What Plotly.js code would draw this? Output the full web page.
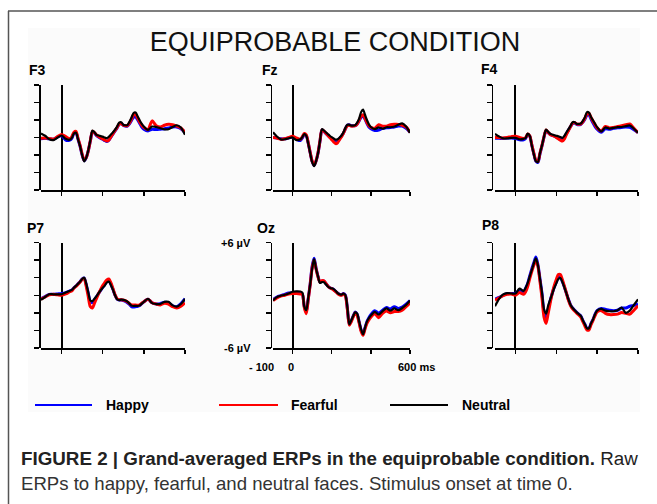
<!DOCTYPE html>
<html>
<head>
<meta charset="utf-8">
<script src="https://cdn.plot.ly/plotly-3.0.1.min.js"></script>
<style>html,body{margin:0;padding:0;background:#fff;}#chart{width:657px;height:504px;}</style>
</head>
<body>
<div id="chart"></div>
<script>
// ---- data ----
const electrodes = ['F3', 'Fz', 'F4', 'P7', 'Oz', 'P8'];
const conditions = ['Happy', 'Fearful', 'Neutral'];
const timeMs = [-100,-80,-60,-40,-20,0,20,40,50,60,70,80,90,100,110,120,130,140,150,160,170,180,190,200,210,220,230,240,250,260,270,280,290,300,310,320,330,340,350,360,370,380,390,400,420,440,460,480,500,520,540,560,580,600];

const happyF3   = [-0.15,-0.1,-0.15,-0.2,0.05,0.2,-0.3,-0.3,-0.1,0.45,0.55,-0.2,-1.0,-2.0,-2.65,-2.3,-1.5,-0.4,0.65,0.5,0.2,0.05,-0.1,-0.2,-0.35,-0.45,-0.3,0.05,0.4,0.75,1.1,1.5,1.6,1.4,1.3,1.3,1.55,1.95,2.3,2.35,2.0,1.6,1.2,0.95,0.75,0.95,0.9,0.95,1.0,1.1,1.2,1.2,1.0,0.55];
const fearfulF3 = [-0.1,-0.05,-0.1,-0.2,0.1,0.35,0.1,-0.15,0.1,0.6,0.7,-0.1,-0.9,-1.9,-2.6,-2.3,-1.5,-0.35,0.7,0.55,0.3,0.1,-0.05,-0.15,-0.3,-0.4,-0.3,0.1,0.45,0.8,1.15,1.55,1.6,1.4,1.35,1.35,1.65,2.1,2.6,2.6,2.2,1.75,1.4,1.15,0.9,1.9,1.35,1.2,1.4,1.5,1.45,1.3,1.1,0.6];
const neutralF3 = [0.46,0.2,-0.2,-0.3,-0.02,0.23,-0.15,-0.25,-0.05,0.45,0.55,-0.2,-1.0,-2.0,-2.73,-2.3,-1.45,-0.3,0.8,0.6,0.3,0.22,0.15,0.1,0.0,-0.08,0.1,0.35,0.6,0.9,1.25,1.7,1.75,1.45,1.4,1.42,1.8,2.28,2.8,2.85,2.4,1.95,1.55,1.25,0.87,1.25,1.2,1.05,0.93,0.95,1.2,1.4,1.15,0.3];

const happyFz   = [0.0,-0.05,-0.15,-0.15,-0.05,0.05,-0.2,-0.35,-0.05,0.35,0.2,-0.65,-1.75,-2.75,-3.2,-2.7,-1.8,-0.45,0.85,0.7,0.45,0.25,0.05,-0.15,-0.35,-0.5,-0.45,-0.15,0.15,0.5,1.0,1.4,1.45,1.35,1.35,1.35,1.55,1.9,2.3,2.45,2.1,1.6,1.2,1.0,0.8,0.85,1.05,1.1,1.15,1.2,1.3,1.3,1.05,0.6];
const fearfulFz = [0.0,-0.05,-0.2,-0.15,0.0,0.15,-0.05,-0.2,0.1,0.45,0.3,-0.6,-1.7,-2.7,-3.15,-2.65,-1.75,-0.4,0.85,0.75,0.5,0.25,0.0,-0.25,-0.5,-0.7,-0.6,-0.25,0.1,0.5,1.0,1.35,1.4,1.3,1.3,1.35,1.55,1.95,2.45,2.6,2.2,1.7,1.35,1.15,1.05,1.45,1.3,1.3,1.45,1.5,1.5,1.4,1.2,0.6];
const neutralFz = [0.6,0.12,-0.22,-0.2,-0.08,0.0,-0.3,-0.2,0.05,0.4,0.2,-0.7,-1.8,-2.8,-3.28,-2.7,-1.8,-0.4,0.95,0.8,0.6,0.4,0.2,0.04,-0.1,-0.25,-0.2,0.0,0.23,0.6,1.1,1.45,1.45,1.36,1.36,1.42,1.7,2.15,2.9,3.2,2.6,2.0,1.5,1.2,0.95,1.15,1.0,1.17,1.17,1.25,1.45,1.62,1.25,0.53];

const happyF4   = [-0.1,-0.1,-0.1,-0.05,-0.05,-0.1,-0.25,-0.25,-0.1,0.35,0.15,-0.85,-1.85,-2.7,-2.85,-1.9,-0.95,0.05,0.8,0.55,0.35,0.25,0.15,0.05,-0.05,-0.15,-0.2,0.05,0.45,0.85,1.25,1.6,1.65,1.5,1.45,1.5,1.75,2.1,2.55,2.6,2.1,1.65,1.25,0.95,0.6,1.0,0.95,1.05,1.1,1.15,1.2,1.15,0.9,0.55];
const fearfulF4 = [0.0,0.0,-0.05,0.0,0.1,0.15,0.0,-0.1,0.0,0.4,0.2,-0.8,-1.8,-2.6,-2.75,-1.8,-0.9,0.1,0.85,0.6,0.35,0.25,0.15,0.0,-0.15,-0.3,-0.4,-0.15,0.35,0.8,1.25,1.65,1.7,1.55,1.5,1.55,1.8,2.2,2.7,2.75,2.3,1.85,1.45,1.1,0.75,1.25,1.1,1.15,1.25,1.35,1.45,1.55,1.05,0.55];
const neutralF4 = [0.42,0.12,-0.1,-0.1,-0.04,-0.04,-0.2,-0.15,-0.05,0.45,0.2,-0.9,-1.9,-2.7,-2.8,-1.8,-0.9,0.1,0.9,0.65,0.42,0.35,0.25,0.2,0.15,0.05,-0.04,0.2,0.6,0.95,1.35,1.75,1.75,1.56,1.55,1.6,1.9,2.3,2.9,2.85,2.35,1.95,1.55,1.18,0.69,1.15,1.02,1.1,1.18,1.2,1.3,1.37,1.0,0.53];

const happyP7   = [-0.4,-0.15,0.1,0.1,0.15,0.2,0.3,0.5,0.6,0.85,1.05,1.3,1.55,1.85,1.95,1.2,0.2,-0.75,-0.8,-0.5,-0.15,0.2,0.55,0.9,1.2,1.55,1.65,1.25,0.65,0.0,-0.45,-0.55,-0.55,-0.6,-0.7,-0.85,-1.05,-1.3,-1.35,-1.3,-1.25,-1.15,-0.95,-0.75,-0.45,-0.85,-1.0,-0.95,-0.8,-0.85,-1.2,-1.3,-0.95,-0.4];
const fearfulP7 = [-0.45,-0.2,0.05,0.1,0.05,0.0,0.15,0.4,0.5,0.8,1.0,1.25,1.5,1.8,1.9,1.0,-0.2,-1.3,-1.45,-0.9,-0.35,0.2,0.65,1.1,1.45,1.75,1.85,1.4,0.75,0.05,-0.4,-0.5,-0.5,-0.55,-0.6,-0.75,-0.95,-1.1,-1.1,-1.1,-1.15,-1.1,-0.9,-0.75,-0.45,-0.85,-1.0,-1.1,-0.9,-1.0,-1.3,-1.45,-1.25,-0.85];
const neutralP7 = [-0.53,-0.2,0.11,0.11,0.1,0.11,0.3,0.5,0.6,0.85,1.07,1.3,1.55,1.85,2.0,1.3,0.3,-0.6,-0.65,-0.4,-0.1,0.25,0.55,0.85,1.1,1.45,1.55,1.15,0.61,0.0,-0.45,-0.55,-0.5,-0.53,-0.6,-0.72,-0.95,-1.18,-1.22,-1.2,-1.22,-1.15,-0.95,-0.75,-0.4,-0.9,-1.0,-1.0,-0.75,-0.75,-1.15,-1.3,-1.0,-0.4];

const happyOz   = [-0.5,-0.2,-0.05,0.1,0.25,0.3,0.35,0.3,0.15,-1.3,-1.9,-0.4,1.3,3.3,4.2,3.1,2.15,1.5,1.6,1.6,1.35,1.05,0.85,0.78,0.65,0.45,0.25,0.1,0.05,0.2,0.0,-1.5,-3.3,-2.9,-2.35,-1.9,-2.15,-3.0,-3.95,-4.4,-3.7,-3.0,-2.55,-2.2,-1.75,-2.05,-1.7,-1.4,-1.55,-1.3,-1.5,-1.35,-1.0,-0.6];
const fearfulOz = [-0.6,-0.3,-0.1,0.0,0.15,0.2,0.2,0.15,0.1,-1.4,-2.1,-0.5,1.2,3.1,4.0,3.0,2.1,1.5,1.65,1.65,1.35,1.05,0.85,0.75,0.6,0.4,0.2,0.05,0.0,0.15,-0.1,-1.6,-3.4,-3.0,-2.45,-2.0,-2.3,-3.15,-4.1,-4.55,-3.85,-3.2,-2.8,-2.5,-2.1,-2.55,-2.05,-1.8,-2.0,-1.85,-1.85,-1.7,-1.3,-0.85];
const neutralOz = [-0.59,-0.21,-0.05,0.05,0.2,0.4,0.44,0.42,0.3,-1.3,-1.7,-0.3,1.25,3.0,4.1,3.0,2.15,1.4,1.5,1.48,1.25,1.0,0.85,0.78,0.7,0.5,0.25,0.12,0.06,0.2,0.0,-1.4,-3.3,-2.85,-2.35,-1.95,-2.1,-3.0,-3.85,-4.45,-3.7,-3.0,-2.6,-2.3,-1.9,-2.2,-1.8,-1.5,-1.75,-1.5,-1.7,-1.45,-1.1,-0.59];

const happyP8   = [-0.45,-0.25,0.0,0.2,0.2,0.2,0.6,0.4,0.8,1.35,2.2,3.0,3.7,4.35,3.5,1.9,0.2,-1.9,-2.55,-1.6,-0.6,0.2,0.9,1.5,2.0,2.05,1.55,0.9,0.2,-0.5,-1.1,-1.45,-1.7,-1.95,-2.15,-2.35,-2.85,-3.3,-3.75,-3.75,-3.2,-2.75,-2.15,-1.75,-1.5,-1.6,-1.7,-1.75,-1.7,-1.45,-1.45,-1.25,-1.15,-1.0];
const fearfulP8 = [-0.55,-0.3,-0.05,0.1,0.15,0.0,0.3,0.1,0.4,1.0,1.9,2.7,3.4,4.0,3.3,1.6,-0.3,-2.5,-3.2,-2.1,-0.9,0.2,1.1,1.8,2.35,2.35,1.75,1.0,0.2,-0.6,-1.2,-1.55,-1.8,-2.05,-2.25,-2.5,-3.0,-3.5,-3.95,-3.95,-3.35,-2.85,-2.3,-1.9,-1.75,-2.05,-2.2,-2.2,-2.15,-1.95,-2.05,-2.15,-1.7,-1.2];
const neutralP8 = [-1.25,-0.4,0.1,0.25,0.2,0.19,0.76,0.5,0.85,1.4,2.15,2.85,3.6,4.2,3.4,1.9,0.3,-1.6,-2.1,-1.2,-0.5,0.15,0.8,1.35,1.85,1.95,1.5,0.87,0.2,-0.5,-1.1,-1.45,-1.72,-1.95,-2.15,-2.35,-2.85,-3.3,-3.75,-3.75,-3.2,-2.75,-2.15,-1.75,-1.55,-1.75,-1.82,-1.82,-1.7,-1.4,-2.0,-1.75,-1.1,-0.46];

const seriesByElectrode = {
  F3: [happyF3, fearfulF3, neutralF3],
  Fz: [happyFz, fearfulFz, neutralFz],
  F4: [happyF4, fearfulF4, neutralF4],
  P7: [happyP7, fearfulP7, neutralP7],
  Oz: [happyOz, fearfulOz, neutralOz],
  P8: [happyP8, fearfulP8, neutralP8]
};
const xTicks = [0, 200, 400, 600];
const yTicks = [-6, -4, -2, 0, 2, 4, 6];

// ---- styling / layout ----
const W = 657, H = 504;
const px = v => v / W;
const py = v => 1 - v / H;
const colors = ['#0000ff', '#ff0000', '#000000'];
const widths = [3, 3, 2.2];
const FONT = 'Liberation Sans, Arial, Helvetica, sans-serif';

// panel geometry in pixels: [xLeft(-100ms), xRight(600ms), yAxisX], rows: [yTop, yBottom]
const cols = [[41, 185, 39], [273, 410, 270.5], [495, 638, 491.5]];
const rows = [[85, 190], [242.5, 348]];

const traces = [];
const layout = {
  width: W, height: H,
  margin: {l: 0, r: 0, t: 0, b: 0},
  paper_bgcolor: '#ffffff', plot_bgcolor: 'rgba(0,0,0,0)',
  showlegend: false,
  font: {family: FONT, color: '#000'},
  title: {text: 'EQUIPROBABLE CONDITION', x: px(335), xanchor: 'center', y: py(42), yanchor: 'middle',
          font: {family: FONT, size: 27, color: '#111'}},
  shapes: [], annotations: []
};

electrodes.forEach((el, i) => {
  const n = i === 0 ? '' : String(i + 1);
  const c = cols[i % 3], r = rows[Math.floor(i / 3)];
  seriesByElectrode[el].forEach((vals, k) => {
    traces.push({
      type: 'scatter', mode: 'lines', name: conditions[k],
      x: timeMs, y: vals, xaxis: 'x' + n, yaxis: 'y' + n,
      line: {color: colors[k], width: widths[k], shape: 'spline', smoothing: 0.8},
      hoverinfo: 'skip'
    });
  });
  layout['xaxis' + n] = {
    domain: [px(c[0]), px(c[1])], range: [-100, 600], anchor: 'y' + n,
    showline: true, linecolor: '#000', linewidth: 1.5,
    ticks: 'outside', tickvals: xTicks, ticklen: 4, tickwidth: 1.5, tickcolor: '#000',
    showticklabels: false, showgrid: false,
    zeroline: true, zerolinecolor: '#000', zerolinewidth: 2, fixedrange: true
  };
  layout['yaxis' + n] = {
    domain: [py(r[1]), py(r[0])], range: [-6, 6], anchor: 'free', position: px(c[2]),
    showline: true, linecolor: '#000', linewidth: 1.5,
    ticks: 'outside', tickvals: yTicks, ticklen: 5, tickwidth: 1.5, tickcolor: '#000',
    showticklabels: false, showgrid: false, zeroline: false, fixedrange: true
  };
});

// panel labels
const labelPos = {F3: [37, 70], Fz: [269.5, 70], F4: [489.7, 69], P7: [35.8, 228], Oz: [265.8, 228.5], P8: [490, 225.5]};
electrodes.forEach(el => {
  layout.annotations.push({text: '<b>' + el + '</b>', x: px(labelPos[el][0]), y: py(labelPos[el][1]),
    xref: 'paper', yref: 'paper', xanchor: 'center', yanchor: 'middle', showarrow: false,
    font: {family: FONT, size: 14, color: '#000'}});
});

// scale labels on Oz
const smallLabels = [
  ['+6 µV', 253, 243, 'right'], ['-6 µV', 253, 348, 'right'],
  ['- 100', 276, 367, 'right'], ['0', 291, 367, 'center'], ['600 ms', 396, 367, 'left']
];
smallLabels.forEach(s => {
  layout.annotations.push({text: '<b>' + s[0] + '</b>', x: px(s[1]), y: py(s[2]), xref: 'paper', yref: 'paper',
    xanchor: s[3], yanchor: 'middle', showarrow: false, font: {family: FONT, size: 11, color: '#000'}});
});

// legend (drawn manually to match the figure's long line samples)
const legendItems = [[35, 92, 104], [219, 278, 289], [390, 448, 460]];
legendItems.forEach((li, k) => {
  layout.shapes.push({type: 'line', xref: 'paper', yref: 'paper', x0: px(li[0]), x1: px(li[1]), y0: py(405), y1: py(405),
    line: {color: colors[k], width: 2}});
  layout.annotations.push({text: '<b>' + conditions[k] + '</b>', x: px(li[2]), y: py(405), xref: 'paper', yref: 'paper',
    xanchor: 'left', yanchor: 'middle', showarrow: false, font: {family: FONT, size: 14, color: '#000'}});
});

// caption
layout.annotations.push({text: '<b>FIGURE 2 | Grand-averaged ERPs in the equiprobable condition.</b> Raw',
  x: px(19), y: py(458), xref: 'paper', yref: 'paper', xanchor: 'left', yanchor: 'middle', showarrow: false,
  font: {family: FONT, size: 18.8, color: '#222'}});
layout.annotations.push({text: 'ERPs to happy, fearful, and neutral faces. Stimulus onset at time 0.',
  x: px(19), y: py(483), xref: 'paper', yref: 'paper', xanchor: 'left', yanchor: 'middle', showarrow: false,
  font: {family: FONT, size: 18.6, color: '#333'}});

// figure frame and faint panel background
layout.shapes.push({type: 'rect', xref: 'paper', yref: 'paper', layer: 'below', x0: px(28), x1: px(640), y0: py(412), y1: py(28),
  line: {width: 0}, fillcolor: '#fbfbfb'});
layout.shapes.push({type: 'line', xref: 'paper', yref: 'paper', x0: px(8), x1: 1, y0: py(11), y1: py(11), line: {color: '#555', width: 1.5}});
layout.shapes.push({type: 'line', xref: 'paper', yref: 'paper', x0: px(8.5), x1: px(8.5), y0: py(11), y1: 0, line: {color: '#555', width: 1.5}});

Plotly.newPlot('chart', traces, layout, {displayModeBar: false, staticPlot: true});
</script>
</body>
</html>
